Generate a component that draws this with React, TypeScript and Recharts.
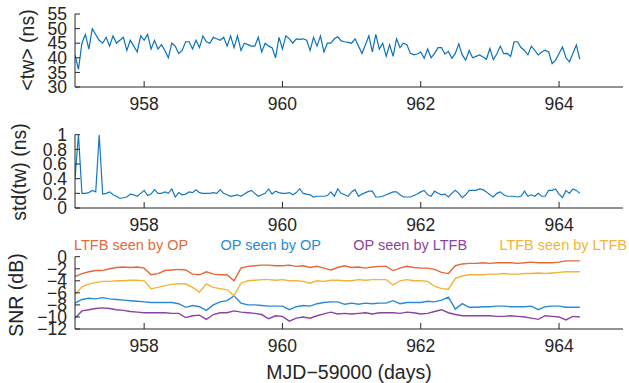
import { LineChart, Line, XAxis, YAxis } from 'recharts'

const T0 = 957
const TW_STEP = 0.05
const SNR_STEP = 0.1

// <tw> mean, ns (one sample per 0.05 d)
const twMean = [
  41, 36, 45, 48, 43, 50, 48, 46, 45, 47, 44, 47.5, 45, 46, 47, 42.5, 46, 44, 42, 47.5,
  46, 48, 43, 46, 43, 44.5, 42.5, 40, 45, 44, 41.5, 42.5, 45.5, 45.5, 43, 46, 43.5, 47.5, 45.5, 45,
  47, 46.5, 46, 47, 44, 47.5, 43.5, 47.5, 42.5, 45, 44.5, 44, 44, 47, 42, 45, 44, 43.5, 40, 47,
  43, 47.5, 46.5, 45, 46.5, 46.3, 46.5, 46, 42.5, 47, 44, 47.5, 42, 45, 45, 46.5, 47.2, 45.8, 45.5, 45.3,
  45, 46.5, 44, 41.5, 44.5, 47.5, 42, 48, 43, 45, 40.5, 44.5, 40.5, 46.5, 43.5, 45, 44.5, 41.5, 41, 41.3,
  42, 39.8, 43, 40, 41.5, 43.5, 43.5, 41.3, 42.2, 39.8, 41.5, 44.8, 41, 39.2, 42.5, 40, 40.5, 41, 40.3, 39.5,
  43.2, 39.4, 41.3, 44, 41.4, 41.5, 40.5, 45.5, 45.5, 43.5, 42.5, 41, 44, 42.5, 41, 42, 42.6, 42, 38, 39.2,
  41.5, 43.7, 40, 38.6, 41.5, 44.4, 39.5,
]

// std(tw), ns
const twStd = [
  0.4, 1.0, 0.2, 0.2, 0.21, 0.24, 0.22, 1.0, 0.19, 0.2, 0.22, 0.18, 0.16, 0.13, 0.14, 0.15, 0.19, 0.18, 0.16, 0.2,
  0.24, 0.17, 0.19, 0.25, 0.2, 0.2, 0.22, 0.2, 0.26, 0.15, 0.21, 0.18, 0.19, 0.22, 0.21, 0.25, 0.21, 0.2, 0.2, 0.2,
  0.21, 0.2, 0.25, 0.2, 0.18, 0.16, 0.17, 0.18, 0.16, 0.19, 0.22, 0.24, 0.2, 0.16, 0.18, 0.2, 0.26, 0.19, 0.23, 0.21,
  0.2, 0.2, 0.21, 0.18, 0.21, 0.26, 0.2, 0.19, 0.18, 0.15, 0.16, 0.16, 0.16, 0.17, 0.22, 0.16, 0.26, 0.2, 0.18, 0.16,
  0.22, 0.25, 0.16, 0.19, 0.21, 0.23, 0.23, 0.15, 0.15, 0.16, 0.18, 0.2, 0.22, 0.22, 0.18, 0.15, 0.15, 0.15, 0.17, 0.19,
  0.22, 0.24, 0.18, 0.16, 0.23, 0.2, 0.18, 0.19, 0.15, 0.2, 0.24, 0.2, 0.14, 0.18, 0.24, 0.24, 0.24, 0.26, 0.25, 0.22,
  0.18, 0.15, 0.2, 0.22, 0.18, 0.16, 0.16, 0.16, 0.15, 0.16, 0.23, 0.16, 0.18, 0.16, 0.2, 0.16, 0.16, 0.24, 0.24, 0.26,
  0.19, 0.14, 0.24, 0.2, 0.26, 0.24, 0.2,
]

// SNR, dB (one sample per 0.1 d)
const snrLtfbByOp = [
  -3.3, -2.8, -2.5, -2.3, -2.3, -2.0, -1.8, -1.7, -1.8, -1.7, -1.9, -3.0, -2.8, -2.3, -2.2, -2.1, -2.2, -2.9, -3.0, -2.5,
  -2.9, -3.0, -3.0, -4.0, -1.9, -1.6, -1.5, -1.4, -1.4, -1.5, -1.5, -1.4, -1.6, -1.5, -1.8, -1.6, -1.9, -2.2, -1.8, -1.5,
  -1.8, -1.7, -1.9, -1.7, -1.6, -1.6, -2.3, -1.9, -1.6, -1.8, -1.9, -1.9, -2.1, -2.6, -2.8, -1.5, -1.2, -1.1, -1.1, -1.0,
  -1.1, -1.0, -1.0, -1.0, -1.1, -1.0, -0.9, -1.0, -1.0, -1.0, -0.9, -0.7, -0.7, -0.7,
]
const snrOpByOp = [
  -7.7, -7.1, -6.9, -7.0, -6.8, -7.0, -7.1, -7.2, -7.3, -7.4, -7.5, -7.6, -7.6, -7.6, -7.6, -7.8, -8.4, -8.1, -8.3, -8.9,
  -8.0, -7.5, -7.3, -6.5, -7.7, -8.0, -8.0, -8.1, -8.2, -8.2, -8.2, -8.8, -8.3, -8.1, -8.2, -7.8, -7.6, -7.5, -7.5, -7.9,
  -7.7, -7.9, -7.7, -7.8, -7.7, -7.7, -7.3, -7.8, -7.6, -7.6, -7.6, -7.4, -7.5, -7.2, -6.7, -8.7, -7.8, -8.4, -8.4, -8.3,
  -8.3, -8.2, -8.2, -8.3, -8.3, -8.3, -8.2, -8.8, -8.3, -8.2, -8.2, -8.4, -8.4, -8.4,
]
const snrOpByLtfb = [
  -10.2, -9.0, -8.8, -8.6, -8.5, -8.6, -8.8, -8.9, -9.1, -9.2, -9.3, -9.3, -9.3, -9.3, -9.4, -9.4, -10.1, -9.8, -9.7, -10.4,
  -9.6, -9.3, -9.3, -9.0, -9.2, -9.3, -9.4, -9.6, -10.3, -9.8, -9.9, -10.7, -10.2, -10.0, -10.2, -9.8, -9.5, -9.2, -9.5, -9.4,
  -9.5, -9.4, -9.3, -9.5, -9.3, -9.3, -9.3, -9.4, -9.2, -9.3, -9.5, -9.4, -9.1, -8.8, -9.3, -9.6, -9.8, -9.8, -9.8, -9.8,
  -9.8, -9.9, -9.9, -9.8, -9.9, -10.0, -10.2, -10.4, -9.8, -9.9, -10.0, -10.5, -9.9, -10.0,
]
const snrLtfbByLtfb = [
  -6.3, -5.0, -4.5, -4.3, -4.1, -4.1, -4.0, -4.0, -3.9, -3.9, -4.0, -5.3, -5.1, -4.8, -4.6, -4.5, -4.5, -5.1, -5.9, -4.5,
  -5.1, -5.3, -5.5, -6.5, -4.4, -4.0, -3.9, -3.8, -3.8, -3.9, -3.8, -4.0, -4.0, -4.1, -4.4, -4.0, -4.1, -3.9, -3.9, -4.0,
  -4.0, -3.8, -3.9, -3.8, -3.8, -3.8, -4.7, -4.0, -3.8, -4.0, -4.0, -4.1, -4.9, -5.3, -5.4, -3.6, -3.2, -3.0, -3.0, -3.0,
  -2.9, -2.9, -2.8, -2.9, -2.9, -2.8, -2.8, -2.7, -2.8, -2.7, -2.6, -2.5, -2.5, -2.5,
]

const snrNames = ['LTFB seen by OP', 'OP seen by OP', 'OP seen by LTFB', 'LTFB seen by LTFB']
const snrColors = ['#E4693A', '#2B8AD2', '#8A44A0', '#F0B437']

const xTicks = [958, 960, 962, 964]
const twTicks = [30, 35, 40, 45, 50, 55]
const stdTicks = [0, 0.2, 0.4, 0.6, 0.8, 1]
const snrTicks = [-12, -10, -8, -6, -4, -2, 0]
const xDomain = [957, 964.925]

const twData = twMean.map((v, i) => ({ t: +(T0 + i * TW_STEP).toFixed(2), mean: v, std: twStd[i] }))
const snrData = snrLtfbByOp.map((v, i) => ({
  t: +(T0 + i * SNR_STEP).toFixed(2),
  s0: v,
  s1: snrOpByOp[i],
  s2: snrOpByLtfb[i],
  s3: snrLtfbByLtfb[i],
}))

const INK = '#262626'
const FONT = '"Liberation Sans", Arial, Helvetica, sans-serif'

const YTitle = ({ value, cx, cy }: any) => (
  <text
    x={cx}
    y={cy}
    transform={`rotate(-90 ${cx} ${cy})`}
    textAnchor="middle"
    dominantBaseline="central"
    fontSize={19.5}
    fill={INK}
  >
    {value}
  </text>
)

const XTitle = ({ viewBox, value }: any) => (
  <text x={viewBox.x + viewBox.width / 2} y={139} textAnchor="middle" fontSize={19.5} fill={INK}>
    {value}
  </text>
)

const minus = (v: number) => (v < 0 ? '\u2212' + Math.abs(v) : String(v))

function Panel({ data, height, plotTop, plotBottom, yDomain, yTicks, title, titleX, titleY, xTitle, children }: any) {
  return (
    <LineChart
      width={629}
      height={height}
      data={data}
      margin={{ top: plotTop, right: 6, bottom: 0, left: 0 }}
    >
      <XAxis
        dataKey="t"
        type="number"
        domain={xDomain}
        allowDataOverflow
        ticks={xTicks}
        interval={0}
        height={height - plotBottom}
        stroke={INK}
        tickSize={-6}
        tickMargin={17}
        tick={{ fill: INK, fontSize: 17.5 }}
        label={xTitle ? <XTitle value={xTitle} /> : undefined}
      />
      <XAxis
        xAxisId="top"
        orientation="top"
        type="number"
        domain={xDomain}
        allowDataOverflow
        ticks={xTicks}
        interval={0}
        height={0}
        stroke={INK}
        tickSize={-6}
        tick={false}
      />
      <YAxis
        type="number"
        domain={yDomain}
        allowDataOverflow
        ticks={yTicks}
        interval={0}
        width={75}
        stroke={INK}
        tickSize={-5}
        tickMargin={13}
        tick={{ fill: INK, fontSize: 17.5 }}
        tickFormatter={minus}
        label={<YTitle value={title} cx={titleX} cy={titleY} />}
      />
      <YAxis
        yAxisId="right"
        orientation="right"
        type="number"
        domain={yDomain}
        allowDataOverflow
        ticks={yTicks}
        interval={0}
        width={0}
        stroke={INK}
        tickSize={-5}
        tick={false}
      />
      {children}
    </LineChart>
  )
}

export default function App() {
  return (
    <div
      style={{
        position: 'absolute',
        left: 0,
        top: 0,
        width: 629,
        height: 383,
        background: '#fff',
        fontFamily: FONT,
        overflow: 'hidden',
      }}
    >
      <div style={{ position: 'absolute', left: 0, top: 0 }}>
        <Panel data={twData} height={120} plotTop={14} plotBottom={87} yDomain={[30, 55]} yTicks={twTicks}
          title="<tw> (ns)" titleX={26.5} titleY={50}>
          <Line dataKey="mean" stroke="#0A72BA" strokeWidth={1.2} dot={false} isAnimationActive={false} />
        </Panel>
      </div>
      <div style={{ position: 'absolute', left: 0, top: 120 }}>
        <Panel data={twData} height={120} plotTop={14.7} plotBottom={88} yDomain={[0, 1]} yTicks={stdTicks}
          title="std(tw) (ns)" titleX={18.8} titleY={52}>
          <Line dataKey="std" stroke="#1479C2" strokeWidth={1.2} dot={false} isAnimationActive={false} />
        </Panel>
      </div>
      <div style={{ position: 'absolute', left: 0, top: 240 }}>
        <Panel data={snrData} height={143} plotTop={16.7} plotBottom={89} yDomain={[-12, 0]} yTicks={snrTicks}
          title="SNR (dB)" titleX={15.5} titleY={55} xTitle={'MJD\u221259000 (days)'}>
          {snrNames.map((n, k) => (
            <Line key={n} name={n} dataKey={`s${k}`} stroke={snrColors[k]} strokeWidth={1.4} dot={false}
              isAnimationActive={false} />
          ))}
        </Panel>
      </div>
      <div
        style={{
          position: 'absolute',
          left: 74,
          top: 236,
          width: 553,
          display: 'flex',
          justifyContent: 'space-between',
          fontSize: 14.5,
          lineHeight: '18px',
          whiteSpace: 'nowrap',
        }}
      >
        {snrNames.map((n, k) => (
          <span key={n} style={{ color: snrColors[k] }}>{n}</span>
        ))}
      </div>
    </div>
  )
}
